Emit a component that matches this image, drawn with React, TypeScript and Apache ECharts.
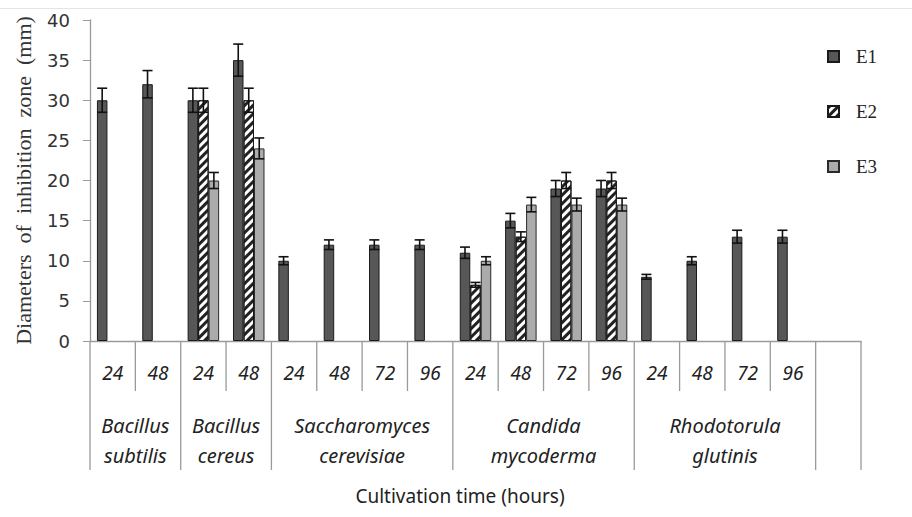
import React, { useEffect, useRef } from "react";
import * as echarts from "echarts";

const hours = ["24", "48", "24", "48", "24", "48", "72", "96", "24", "48", "72", "96", "24", "48", "72", "96", ""];
const species = [
  { lines: ["Bacillus", "subtilis"], from: 0, to: 2 },
  { lines: ["Bacillus", "cereus"], from: 2, to: 4 },
  { lines: ["Saccharomyces", "cerevisiae"], from: 4, to: 8 },
  { lines: ["Candida", "mycoderma"], from: 8, to: 12 },
  { lines: ["Rhodotorula", "glutinis"], from: 12, to: 16 },
];
const seriesNames = ["E1", "E2", "E3"];
const e1 = [30, 32, 30, 35, 10, 12, 12, 12, 11, 15, 19, 19, 8, 10, 13, 13, null];
const e2 = [null, null, 30, 30, null, null, null, null, 7, 13, 20, 20, null, null, null, null, null];
const e3 = [null, null, 20, 24, null, null, null, null, 10, 17, 17, 17, null, null, null, null, null];
const e1Err = [1.5, 1.7, 1.5, 2, 0.5, 0.6, 0.6, 0.6, 0.7, 0.9, 1, 1, 0.3, 0.5, 0.8, 0.8, null];
const e2Err = [null, null, 1.5, 1.5, null, null, null, null, 0.3, 0.6, 1, 1, null, null, null, null, null];
const e3Err = [null, null, 1, 1.3, null, null, null, null, 0.5, 0.9, 0.8, 0.8, null, null, null, null, null];
const yTicks = { min: 0, max: 40, interval: 5 };

const BW = 10.5;

export default function App() {
  const ref = useRef<HTMLDivElement>(null);
  useEffect(() => {
    if (!ref.current) return;
    const chart = echarts.init(ref.current, null, { renderer: "svg" });
    const values = [e1, e2, e3];
    const errs = [e1Err, e2Err, e3Err];
    const errData: any[] = [];
    values.forEach((arr, s) => {
      arr.forEach((v, i) => {
        if (v != null && errs[s][i] != null) errData.push([i, v, errs[s][i], s]);
      });
    });
    const styles = [
      { color: "#575757", borderColor: "#1a1a1a", borderWidth: 1 },
      {
        color: "#ffffff",
        borderColor: "#1a1a1a",
        borderWidth: 1,
        decal: {
          symbol: "rect",
          symbolSize: 1,
          dashArrayX: [1, 0],
          dashArrayY: [2.5, 3],
          rotation: -Math.PI / 4,
          color: "#222",
        },
      },
      { color: "#ababab", borderColor: "#2a2a2a", borderWidth: 1 },
    ];
    const option: any = {
      animation: false,
      backgroundColor: "#ffffff",
      grid: { left: 90, right: 51, top: 20, bottom: 176 },
      legend: {
        data: seriesNames,
        orient: "vertical",
        left: 822,
        top: 42,
        itemWidth: 11,
        itemHeight: 11,
        itemGap: 36,
        icon: "rect",
        textStyle: {
          fontFamily: "Liberation Serif",
          fontSize: 19,
          color: "#222",
          padding: [0, 0, 0, 12],
        },
      },
      xAxis: {
        type: "category",
        data: hours,
        axisLine: { lineStyle: { color: "#9a9a9a", width: 1.3 } },
        axisTick: { show: false },
        axisLabel: {
          interval: 0,
          margin: 22,
          fontFamily: "Noto Sans",
          fontStyle: "italic",
          fontSize: 19,
          color: "#222",
        },
      },
      yAxis: {
        type: "value",
        min: yTicks.min,
        max: yTicks.max,
        interval: yTicks.interval,
        name: "Diameters  of  inhibition  zone  (mm)",
        nameLocation: "middle",
        nameGap: 56,
        nameTextStyle: { fontFamily: "Liberation Serif", fontSize: 22, color: "#333" },
        axisLine: { show: true, lineStyle: { color: "#9a9a9a", width: 1.3 } },
        axisTick: { show: true, length: 7, lineStyle: { color: "#9a9a9a" } },
        splitLine: { show: false },
        axisLabel: { margin: 20, fontFamily: "DejaVu Sans", fontSize: 18, color: "#333" },
      },
      series: [
        ...seriesNames.map((n, s) => ({
          name: n,
          type: "bar",
          data: values[s],
          barWidth: BW,
          barGap: "0%",
          itemStyle: styles[s],
        })),
        {
          type: "custom",
          data: errData,
          z: 10,
          renderItem: (params: any, api: any) => {
            const idx = api.value(0);
            const v = api.value(1);
            const e = api.value(2);
            const s = api.value(3);
            const c = api.coord([idx, v]);
            const x = c[0] + (s - 1) * BW;
            const yt = api.coord([idx, v + e])[1];
            const yb = api.coord([idx, v - e])[1];
            const hw = 5;
            const st = { stroke: "#111", lineWidth: 1.6 };
            return {
              type: "group",
              children: [
                { type: "line", shape: { x1: x, y1: yt, x2: x, y2: yb }, style: st },
                { type: "line", shape: { x1: x - hw, y1: yt, x2: x + hw, y2: yt }, style: st },
                { type: "line", shape: { x1: x - hw, y1: yb, x2: x + hw, y2: yb }, style: st },
              ],
            };
          },
        },
      ],
    };
    chart.setOption(option);

    const p0 = chart.convertToPixel({ xAxisIndex: 0 }, 0) as number;
    const p1 = chart.convertToPixel({ xAxisIndex: 0 }, 1) as number;
    const hw = (p1 - p0) / 2;
    const y0 = chart.convertToPixel({ yAxisIndex: 0 }, 0) as number;
    const boundary = (k: number) => p0 - hw + k * 2 * hw;
    const longSet = new Set<number>([0, 17]);
    species.forEach((sp) => {
      longSet.add(sp.from);
      longSet.add(sp.to);
    });
    const graphics: any[] = [];
    for (let k = 0; k <= hours.length; k++) {
      const x = boundary(k);
      const long = longSet.has(k);
      graphics.push({
        type: "line",
        shape: { x1: x, y1: y0, x2: x, y2: y0 + (long ? 129 : 50) },
        style: { stroke: "#9a9a9a", lineWidth: 1.3 },
        silent: true,
      });
    }
    species.forEach((sp) => {
      const cx = (boundary(sp.from) + boundary(sp.to)) / 2;
      sp.lines.forEach((t, j) => {
        graphics.push({
          type: "text",
          x: cx,
          y: y0 + 84 + j * 30,
          style: {
            text: t,
            align: "center",
            verticalAlign: "middle",
            fontFamily: "Noto Sans",
            fontStyle: "italic",
            fontSize: 20,
            fill: "#222",
          },
          silent: true,
        });
      });
    });
    graphics.push({
      type: "text",
      x: 460,
      y: 496,
      style: {
        text: "Cultivation time (hours)",
        align: "center",
        verticalAlign: "middle",
        fontFamily: "Noto Sans",
        fontSize: 19,
        fill: "#222",
      },
      silent: true,
    });
    graphics.push({
      type: "line",
      shape: { x1: 0, y1: 8.5, x2: 912, y2: 8.5 },
      style: { stroke: "#e4e4e4", lineWidth: 1 },
      silent: true,
    });
    chart.setOption({ graphic: graphics });

    return () => chart.dispose();
  }, []);
  return (
    <div
      ref={ref}
      style={{ position: "absolute", left: 0, top: 0, width: 912, height: 517 }}
    />
  );
}
